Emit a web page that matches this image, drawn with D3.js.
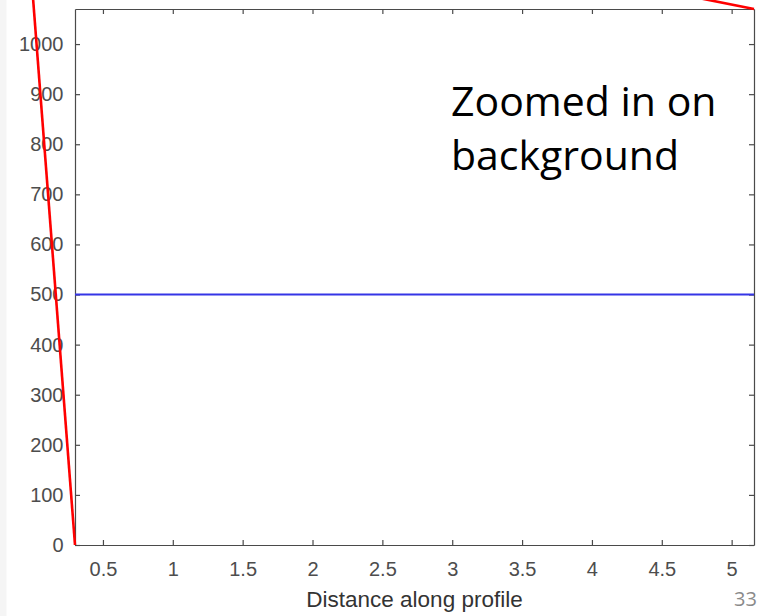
<!DOCTYPE html>
<html>
<head>
<meta charset="utf-8">
<script src="https://cdn.jsdelivr.net/npm/d3@7"></script>
<style>
  body { margin: 0; background: #fff; }
  svg { display: block; }
</style>
</head>
<body>
<script>
// données
var xTicks = [0.5, 1, 1.5, 2, 2.5, 3, 3.5, 4, 4.5, 5];
var yTicks = [0, 100, 200, 300, 400, 500, 600, 700, 800, 900, 1000];
var xDomain = [0.3, 5.16];
var yDomain = [0, 1070];

// ligne de fond (bleue)
var bgDist = [0.3, 5.16];
var bgValue = [500, 500];

// profil (rouge), coupé par le zoom
var redLeftDist = [0.3, 0.0];
var redLeftValue = [0, 1090];
var redRightDist = [5.16, 4.6];
var redRightValue = [1070, 1101];

var titleLines = ["Zoomed in on", "background"];
var xLabel = "Distance along profile";
var slideNum = "33";

var width = 767;
var height = 616;
// attention: "top" est déjà pris par window.top
var mLeft = 75, mRight = 754, mTop = 9, mBottom = 545;

var svg = d3.select("body")
    .append("svg")
    .attr("width", width)
    .attr("height", height);

// bande grise à gauche
svg.append("rect")
    .attr("x", 0).attr("y", 0)
    .attr("width", 6.5).attr("height", height)
    .attr("fill", "#f5f5f5");

var xscale = d3.scaleLinear().domain(xDomain).range([mLeft, mRight]);
var yscale = d3.scaleLinear().domain(yDomain).range([mBottom, mTop]);

var axisColor = "#4a4a4a";
var labelColor = "#4d4d4d";

// axes
var gx = svg.append("g")
    .attr("transform", "translate(0," + mBottom + ")")
    .call(d3.axisBottom(xscale).tickValues(xTicks).tickFormat(d3.format("")).tickSizeInner(-5).tickSizeOuter(0).tickPadding(16.5));

var gy = svg.append("g")
    .attr("transform", "translate(" + mLeft + ",0)")
    .call(d3.axisLeft(yscale).tickValues(yTicks).tickFormat(d3.format("")).tickSizeInner(-5).tickSizeOuter(0).tickPadding(11.5));

var gt = svg.append("g")
    .attr("transform", "translate(0," + mTop + ")")
    .call(d3.axisTop(xscale).tickValues(xTicks).tickFormat("").tickSizeInner(-5).tickSizeOuter(0));

var gr = svg.append("g")
    .attr("transform", "translate(" + mRight + ",0)")
    .call(d3.axisRight(yscale).tickValues(yTicks).tickFormat("").tickSizeInner(-5).tickSizeOuter(0));

[gx, gy, gt, gr].forEach(function (g) {
    g.selectAll("path, line").attr("stroke", axisColor).attr("stroke-width", 1.2);
    g.selectAll("text")
        .attr("fill", labelColor)
        .style("font-family", "'Liberation Sans', Arial, sans-serif")
        .style("font-size", "20px");
});

svg.append("text")
    .attr("x", xscale((xDomain[0] + xDomain[1]) / 2))
    .attr("y", 606.5)
    .attr("text-anchor", "middle")
    .attr("fill", "#333")
    .style("font-family", "'Liberation Sans', Arial, sans-serif")
    .style("font-size", "22.5px")
    .text(xLabel);

var line = d3.line()
    .x(function (d) { return xscale(d[0]); })
    .y(function (d) { return yscale(d[1]); });

// ligne bleue
svg.append("path")
    .datum(d3.zip(bgDist, bgValue))
    .attr("d", line)
    .attr("fill", "none")
    .attr("stroke", "#3535e6")
    .attr("stroke-width", 2);

// lignes rouges (non découpées)
[[redLeftDist, redLeftValue], [redRightDist, redRightValue]].forEach(function (s) {
    svg.append("path")
        .datum(d3.zip(s[0], s[1]))
        .attr("d", line)
        .attr("fill", "none")
        .attr("stroke", "#ff0000")
        .attr("stroke-width", 2.6);
});

// texte de la diapo
svg.append("g").selectAll("text")
    .data(titleLines)
    .enter()
    .append("text")
    .attr("x", 451)
    .attr("y", function (d, i) { return 116 + i * 54; })
    .attr("fill", "#000")
    .style("font-family", "'Open Sans', sans-serif")
    .style("font-size", "41px")
    .text(function (d) { return d; });

svg.append("text")
    .attr("x", 734)
    .attr("y", 606)
    .attr("fill", "#8a8a8a")
    .style("font-family", "'Open Sans', sans-serif")
    .style("font-size", "20px")
    .text(slideNum);
</script>
</body>
</html>
